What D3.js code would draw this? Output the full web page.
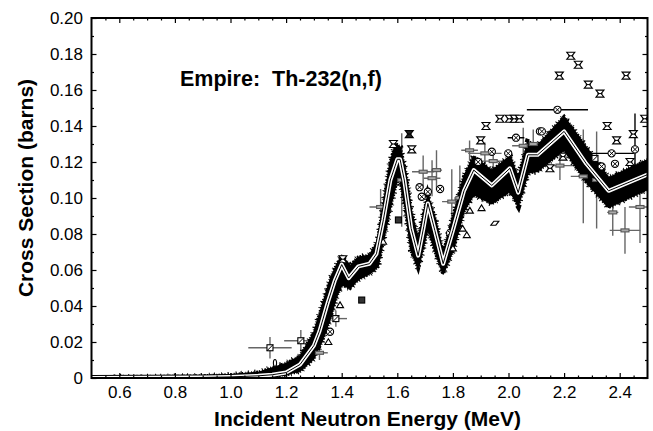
<!DOCTYPE html>
<html><head><meta charset="utf-8">
<script src="https://cdn.jsdelivr.net/npm/d3@7"></script>
<style>body{margin:0;background:#fff} text{font-family:"Liberation Sans",Arial,Helvetica,sans-serif}</style>
</head><body><svg id="c" width="653" height="431"></svg>
<script>
// Evaluated (Empire) curve
const curveE  = [0.5,0.7,0.9,1.0,1.1,1.15,1.2,1.25,1.3,1.32,1.35,1.375,1.40,1.425,1.46,1.50,1.525,1.55,1.575,1.60,1.61,1.625,1.65,1.675,1.695,1.71,1.735,1.765,1.80,1.84,1.875,1.94,2.005,2.035,2.07,2.105,2.20,2.28,2.36,2.5];
const curveXS = [0,0.0001,0.0003,0.0006,0.0012,0.0018,0.003,0.0075,0.018,0.026,0.042,0.054,0.063,0.0555,0.062,0.0635,0.069,0.088,0.110,0.1215,0.1215,0.110,0.083,0.068,0.084,0.097,0.082,0.0635,0.082,0.104,0.1155,0.107,0.1165,0.103,0.124,0.124,0.137,0.119,0.104,0.113];
// Dense measured data envelope
const bandE  = [0.58,0.7,0.8,0.9,1.0,1.1,1.2,1.25,1.3,1.33,1.36,1.38,1.40,1.43,1.46,1.50,1.53,1.55,1.575,1.595,1.61,1.63,1.65,1.675,1.695,1.71,1.735,1.765,1.80,1.84,1.875,1.94,2.005,2.035,2.07,2.105,2.20,2.28,2.36,2.5];
const bandLo = [0,0,0,0,0,0.0008,0.002,0.004,0.011,0.021,0.034,0.045,0.052,0.05,0.055,0.058,0.062,0.077,0.095,0.108,0.111,0.094,0.071,0.061,0.074,0.084,0.071,0.058,0.071,0.093,0.102,0.097,0.104,0.096,0.114,0.115,0.127,0.109,0.095,0.105];
const bandHi = [0.0004,0.0005,0.0007,0.001,0.0016,0.003,0.008,0.012,0.025,0.04,0.055,0.062,0.068,0.062,0.067,0.068,0.076,0.096,0.12,0.13,0.128,0.114,0.093,0.076,0.091,0.101,0.089,0.069,0.089,0.112,0.123,0.115,0.123,0.111,0.131,0.129,0.145,0.128,0.111,0.121];
// Other measurements: energy, value, energy error, value error, symbol
const expE   = [2.183,2.224,2.251,2.287,2.329,2.423,1.969,2.003,2.021,2.039,1.919,1.900,2.355,2.389,2.449,2.49,1.586,1.404,1.652,2.437,2.196,2.149,
                1.643,1.604,1.472,
                2.176,2.027,2.371,2.455,2.383,2.335,2.113,1.891,1.94,1.999,2.12,1.68,1.71,1.754,1.688,1.79,1.358,
                1.142,1.253,1.379,2.311,
                2.419,2.473,2.269,2.185,1.915,1.945,2.089,2.053,1.796,1.693,1.725,1.54,1.616,1.32,1.825,2.317,2.375,1.86,1.741,
                1.85,1.903,1.861,1.549,1.394,1.352,1.80,1.835,
                1.951,1.16,0.62,0.72,0.8,0.82];
const expXS  = [0.168,0.179,0.174,0.163,0.158,0.168,0.144,0.144,0.144,0.144,0.140,0.132,0.140,0.132,0.1355,0.144,0.130,0.066,0.127,0.120,0.123,0.1165,
                0.1355,0.0878,0.0433,
                0.149,0.1335,0.1248,0.127,0.119,0.1175,0.137,0.120,0.1257,0.1248,0.137,0.106,0.1035,0.105,0.1007,0.0805,0.0257,
                0.0168,0.0207,0.033,0.122,
                0.082,0.095,0.112,0.118,0.1248,0.1205,0.130,0.129,0.098,0.1146,0.111,0.095,0.110,0.014,0.100,0.110,0.092,0.1265,0.1155,
                0.0794,0.0944,0.093,0.0757,0.0405,0.020,0.072,0.083,
                0.086,0.0083,0.0003,0.0003,0.0004,0.0005];
const expDE  = [0,0,0,0,0,0,0,0,0,0,0,0,0,0,0,0,0,0,0,0,0,0,
                0,0,0,
                0.11,0.03,0.08,0,0,0,0,0,0,0,0,0,0,0,0,0,0,
                0.078,0.06,0.04,0,
                0.055,0.04,0.045,0.06,0.06,0.04,0.03,0.04,0.035,0.04,0.03,0.04,0.02,0.03,0.02,0.02,0.02,0.03,0.02,
                0,0,0,0,0,0,0,0,
                0,0,0,0,0,0];
const expDXS = [0,0,0,0,0,0,0,0,0,0,0,0,0,0,0,0,0,0,0,0,0,0,
                0,0,0,
                0,0,0,0.02,0,0,0,0,0,0,0,0,0,0,0,0,0,
                0.006,0.006,0.0045,0,
                0.013,0.02,0.026,0.008,0.006,0.006,0.008,0.01,0.018,0.009,0.01,0.01,0.026,0.004,0.018,0.027,0.013,0.0055,0.011,
                0,0,0,0,0,0,0,0,
                0,0,0,0,0,0];
const expSym = ["st","st","st","st","st","st","st","st","st","st","st","st","st","st","st","st","st","st","st","st","st","st",
                "fst","fsq","fsq",
                "cx","cx","cx","cx","cx","cx","cx","cx","cx","cx","cx","cx","cx","cx","cx","cx","cx",
                "sq","sq","sq","sq",
                "rc","rc","rc","rc","rc","rc","rc","rc","rc","rc","rc","rc","rc","rc","rc","rc","rc","rc","rc",
                "tri","tri","tri","tri","tri","tri","tri","tri",
                "dia","oval","tiny","tiny","tiny","tiny"];
const xTicks = [0.6,0.8,1.0,1.2,1.4,1.6,1.8,2.0,2.2,2.4];
const yTicks = [0,0.02,0.04,0.06,0.08,0.10,0.12,0.14,0.16,0.18,0.20];

const svg = d3.select("#c");
const L=91.5,R=647.5,T=18,B=378;
const x = d3.scaleLinear().domain([0.5,2.5]).range([L,R]);
const y = d3.scaleLinear().domain([0,0.2]).range([B,T]);

svg.append("defs").append("clipPath").attr("id","clip").append("rect")
  .attr("x",L).attr("y",T).attr("width",R-L).attr("height",B-T);
const plot = svg.append("g").attr("clip-path","url(#clip)");

const exp = expE.map((e,i)=>({e, v:expXS[i], de:expDE[i], dv:expDXS[i], s:expSym[i]}));

// gray error bars
const gray = "#666";
const eb = plot.append("g");
exp.filter(d=>d.s!=="cx").forEach(d=>{
  if(d.de>0) eb.append("line").attr("x1",x(d.e-d.de)).attr("x2",x(d.e+d.de)).attr("y1",y(d.v)).attr("y2",y(d.v)).attr("stroke",gray).attr("stroke-width",1.4);
  if(d.dv>0) eb.append("line").attr("x1",x(d.e)).attr("x2",x(d.e)).attr("y1",y(d.v-d.dv)).attr("y2",y(d.v+d.dv)).attr("stroke",gray).attr("stroke-width",1.4);
});

// dense data band
const band = bandE.map((e,i)=>({e, lo:bandLo[i], hi:bandHi[i]}));
const bandPath = d3.area().x(d=>x(d.e)).y0(d=>y(d.lo)).y1(d=>y(d.hi))(band);
plot.append("path").attr("d", bandPath)
  .attr("fill","#000").attr("stroke","#000").attr("stroke-width",2).attr("stroke-linejoin","round");
plot.append("path").attr("d", bandPath)
  .attr("fill","none").attr("stroke","#000").attr("stroke-width",4)
  .attr("stroke-dasharray","1,1.6,2,1.1,1.3,2.4,0.8,1.2,1.7,2,1,1.4");
plot.append("path").attr("d", bandPath)
  .attr("fill","none").attr("stroke","#000").attr("stroke-width",6.5)
  .attr("stroke-dasharray","0.8,5.5,1.2,7,0.9,4.2,1,6.3");

// black error bars
exp.filter(d=>d.s==="cx").forEach(d=>{
  if(d.de>0) plot.append("line").attr("x1",x(d.e-d.de)).attr("x2",x(d.e+d.de)).attr("y1",y(d.v)).attr("y2",y(d.v)).attr("stroke","#000").attr("stroke-width",1.4);
  if(d.dv>0) plot.append("line").attr("x1",x(d.e)).attr("x2",x(d.e)).attr("y1",y(d.v-d.dv)).attr("y2",y(d.v+d.dv)).attr("stroke","#000").attr("stroke-width",1.4);
});

// symbols
const sg = plot.append("g");
exp.forEach(d=>{
  const g = sg.append("g").attr("transform",`translate(${x(d.e)},${y(d.v)})`);
  const st = {stroke:"#000","stroke-width":1.1,fill:"#fff"};
  const ap = (tag)=>{const el=g.append(tag); Object.entries(st).forEach(([k,v])=>el.attr(k,v)); return el;};
  if(d.s==="st"||d.s==="fst"){
    ap("path").attr("d","M-4,-3.5L4,-3.5L1.2,0L4,3.5L-4,3.5L-1.2,0Z").attr("fill",d.s==="fst"?"#222":"#fff");
    g.append("line").attr("x1",-2.5).attr("x2",2.5).attr("y1",0).attr("y2",0).attr("stroke","#000").attr("stroke-width",1);
  } else if(d.s==="cx"){
    ap("circle").attr("r",3.6);
    g.append("path").attr("d","M-2.5,-2.5L2.5,2.5M-2.5,2.5L2.5,-2.5").attr("stroke","#000").attr("stroke-width",1);
  } else if(d.s==="sq"){
    ap("rect").attr("x",-3).attr("y",-3).attr("width",6).attr("height",6);
    g.append("path").attr("d","M-3,3L3,-3").attr("stroke","#000").attr("stroke-width",1);
  } else if(d.s==="fsq"){
    ap("rect").attr("x",-3).attr("y",-3).attr("width",6).attr("height",6).attr("fill","#333");
  } else if(d.s==="rc"){
    ap("rect").attr("x",-4).attr("y",-1.5).attr("width",8).attr("height",3).attr("fill","#aaa").attr("stroke","#555");
  } else if(d.s==="tri"){
    ap("path").attr("d","M0,-3.2L3.5,2.5L-3.5,2.5Z");
  } else if(d.s==="dia"){
    ap("path").attr("d","M-4,2L-1,-2L4,-2L1,2Z");
  } else if(d.s==="oval"){
    ap("ellipse").attr("rx",1.6).attr("ry",3.5);
  } else if(d.s==="tiny"){
    ap("ellipse").attr("rx",2.5).attr("ry",1.4);
  }
});

// Empire curve
const line = d3.line().x((d,i)=>x(curveE[i])).y((d,i)=>y(curveXS[i]));
const cpath = line(curveXS);
plot.append("path").attr("d",cpath).attr("fill","none").attr("stroke","#000").attr("stroke-width",6).attr("stroke-linejoin","round");
plot.append("path").attr("d",cpath).attr("fill","none").attr("stroke","#fff").attr("stroke-width",4).attr("stroke-linejoin","round");
plot.append("path").attr("d",cpath).attr("fill","none").attr("stroke","#000").attr("stroke-width",1).attr("stroke-linejoin","round");

// axes
const xMinor = d3.range(0.55,2.5,0.05).filter(v=>Math.abs(Math.round(v*5)-v*5)>1e-6);
const yMinor = d3.range(0.01,0.2,0.02);
function styleAxis(g){ g.select(".domain").remove(); g.selectAll("line").attr("stroke","#000").attr("stroke-width",1.2); g.selectAll("text").attr("font-size",17).attr("fill","#000").attr("font-family",'"Liberation Sans",Arial,sans-serif'); }
svg.append("g").attr("transform",`translate(0,${B})`).call(d3.axisBottom(x).tickValues(xTicks).tickSize(-5).tickPadding(8).tickFormat(d3.format(".1f"))).call(styleAxis);
svg.append("g").attr("transform",`translate(0,${B})`).call(d3.axisBottom(x).tickValues(xMinor).tickSize(-2.5).tickFormat("")).call(styleAxis);
svg.append("g").attr("transform",`translate(0,${T})`).call(d3.axisTop(x).tickValues(xTicks).tickSize(-5).tickFormat("")).call(styleAxis);
svg.append("g").attr("transform",`translate(0,${T})`).call(d3.axisTop(x).tickValues(xMinor).tickSize(-2.5).tickFormat("")).call(styleAxis);
svg.append("g").attr("transform",`translate(${L},0)`).call(d3.axisLeft(y).tickValues(yTicks).tickSize(-5).tickPadding(8.5).tickFormat(d=>d===0?"0":d3.format(".2f")(d))).call(styleAxis);
svg.append("g").attr("transform",`translate(${L},0)`).call(d3.axisLeft(y).tickValues(yMinor).tickSize(-2.5).tickFormat("")).call(styleAxis);
svg.append("g").attr("transform",`translate(${R},0)`).call(d3.axisRight(y).tickValues(yTicks).tickSize(-5).tickFormat("")).call(styleAxis);
svg.append("g").attr("transform",`translate(${R},0)`).call(d3.axisRight(y).tickValues(yMinor).tickSize(-2.5).tickFormat("")).call(styleAxis);

svg.append("rect").attr("x",L).attr("y",T).attr("width",R-L).attr("height",B-T).attr("fill","none").attr("stroke","#000").attr("stroke-width",2);

// titles
svg.append("text").attr("x",(L+R)/2-2).attr("y",426).attr("text-anchor","middle").attr("font-size",21).attr("font-weight","bold").text("Incident Neutron Energy (MeV)");
svg.append("text").attr("transform","translate(33,188) rotate(-90)").attr("text-anchor","middle").attr("font-size",21).attr("font-weight","bold").text("Cross Section (barns)");
svg.append("text").attr("x",180).attr("y",86).attr("font-size",21.5).attr("font-weight","bold").attr("xml:space","preserve").style("white-space","pre").text("Empire:  Th-232(n,f)");
</script></body></html>
